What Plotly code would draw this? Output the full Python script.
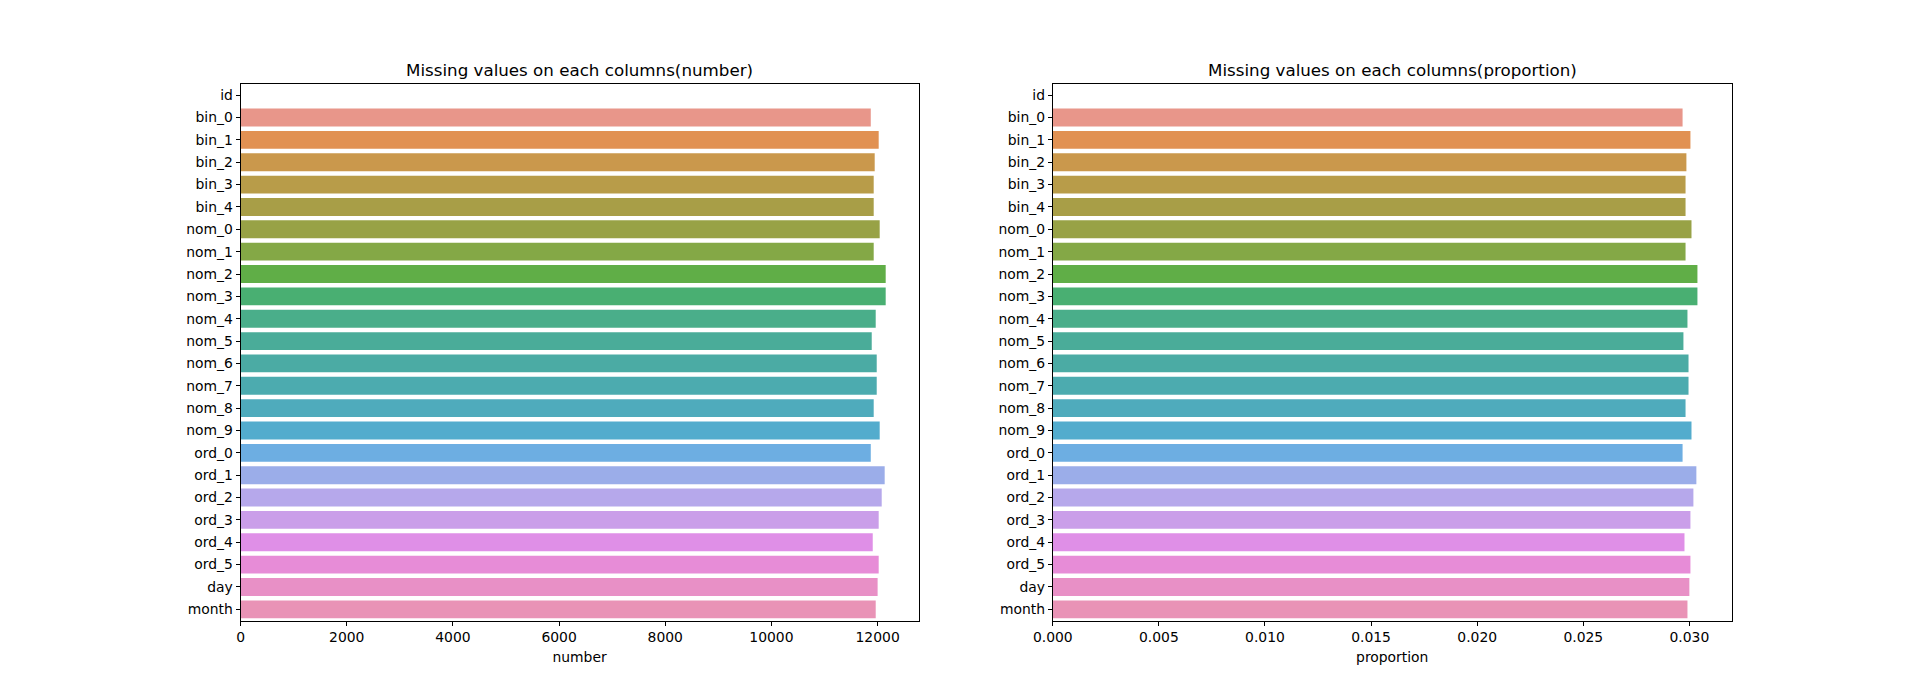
import math
import colorsys
import plotly.graph_objects as go

# columns of the dataset (top to bottom)
columns = ['id', 'bin_0', 'bin_1', 'bin_2', 'bin_3', 'bin_4', 'nom_0', 'nom_1',
           'nom_2', 'nom_3', 'nom_4', 'nom_5', 'nom_6', 'nom_7', 'nom_8', 'nom_9',
           'ord_0', 'ord_1', 'ord_2', 'ord_3', 'ord_4', 'ord_5', 'day', 'month']

# missing values count per column
missing_number = [0, 11871, 12020, 11945, 11926, 11926, 12039, 11926,
                  12152, 12152, 11964, 11889, 11983, 11983, 11926, 12039,
                  11871, 12133, 12077, 12020, 11908, 12020, 12000, 11964]

# missing values proportion per column
missing_proportion = [0.0, 0.02968, 0.03005, 0.02986, 0.02982, 0.02982, 0.03010, 0.02982,
                      0.03038, 0.03038, 0.02991, 0.02972, 0.02996, 0.02996, 0.02982, 0.03010,
                      0.02968, 0.03033, 0.03019, 0.03005, 0.02977, 0.03005, 0.03000, 0.02991]

number_ticks = [0, 2000, 4000, 6000, 8000, 10000, 12000]
proportion_ticks = [0, 0.005, 0.01, 0.015, 0.02, 0.025, 0.03]


# --- husl palette (same as seaborn's default for many categories) ---
M = [[3.2406, -1.5372, -0.4986],
     [-0.9689, 1.8758, 0.0415],
     [0.0557, -0.2040, 1.0570]]
REF_U, REF_V = 0.19784, 0.46834
LAB_E, LAB_K = 0.008856, 903.3


def max_chroma(L, H):
    hrad = math.radians(H)
    sinH, cosH = math.sin(hrad), math.cos(hrad)
    sub1 = (L + 16) ** 3 / 1560896.0
    sub2 = sub1 if sub1 > LAB_E else L / LAB_K
    result = float('inf')
    for m1, m2, m3 in M:
        top = (0.99915 * m1 + 1.05122 * m2 + 1.14460 * m3) * sub2
        rbottom = 0.86330 * m3 - 0.17266 * m2
        lbottom = 0.12949 * m3 - 0.38848 * m1
        bottom = (rbottom * sinH + lbottom * cosH) * sub2
        for t in (0.0, 1.0):
            C = L * (top - 1.05122 * t) / (bottom + 0.17266 * sinH * t)
            if 0 < C < result:
                result = C
    return result


def husl_to_rgb(H, S, L):
    C = max_chroma(L, H) / 100.0 * S
    U = math.cos(math.radians(H)) * C
    V = math.sin(math.radians(H)) * C
    Y = ((L + 16) / 116.0) ** 3 if L > 8 else L / LAB_K
    var_u = U / (13 * L) + REF_U
    var_v = V / (13 * L) + REF_V
    X = -(9 * Y * var_u) / ((var_u - 4) * var_v - var_u * var_v)
    Z = (9 * Y - 15 * var_v * Y - var_v * X) / (3 * var_v)
    out = []
    for row in M:
        c = row[0] * X + row[1] * Y + row[2] * Z
        c = 12.92 * c if c <= 0.0031308 else 1.055 * c ** (1 / 2.4) - 0.055
        out.append(min(max(c, 0), 1))
    return out


def palette(n, h=0.01, s=0.9, l=0.7, sat=0.75):
    cols = []
    for i in range(n):
        hue = ((i / n) + h) % 1 * 359
        r, g, b = husl_to_rgb(hue, s * 99, l * 99)
        hh, ll, ss = colorsys.rgb_to_hls(r, g, b)
        r, g, b = colorsys.hls_to_rgb(hh, ll, ss * sat)
        cols.append('rgb(%d,%d,%d)' % (round(r * 255), round(g * 255), round(b * 255)))
    return cols


colors = palette(len(columns))

# page body has an 8px margin, so the figure is a bit smaller than the window
OFF = 8
W, H = 1923 - 2 * OFF, 697 - 2 * OFF
font_family = 'DejaVu Sans'
tick_size = 13.9
title_size = 16.7


def px_x(x):
    return (x - OFF) / W


def px_y(y):
    return 1 - (y - OFF) / H


fig = go.Figure()

fig.add_trace(go.Bar(x=missing_number, y=columns, orientation='h',
                     marker=dict(color=colors, line=dict(width=0)),
                     xaxis='x', yaxis='y'))
fig.add_trace(go.Bar(x=missing_proportion, y=columns, orientation='h',
                     marker=dict(color=colors, line=dict(width=0)),
                     xaxis='x2', yaxis='y2'))

ydom = [px_y(620.5), px_y(84)]
axis_common = dict(
    showline=True, mirror=True, linecolor='black', linewidth=1,
    showgrid=False, zeroline=False,
    ticks='outside', ticklen=4, tickcolor='black', tickwidth=1,
    tickfont=dict(family=font_family, size=tick_size, color='black'),
    automargin=False,
)

fig.update_layout(
    width=W, height=H,
    margin=dict(l=0, r=0, t=0, b=0),
    paper_bgcolor='white', plot_bgcolor='white',
    showlegend=False,
    bargap=0.2,
    xaxis=dict(domain=[px_x(240.6), px_x(918.5)], range=[0, 12770], anchor='y',
               tickvals=number_ticks, ticktext=[str(t) for t in number_ticks],
               title=dict(text='number', font=dict(family=font_family, size=tick_size, color='black'),
                          standoff=8),
               **axis_common),
    yaxis=dict(domain=ydom, range=[len(columns) - 0.5, -0.5], anchor='x',
               type='category', **axis_common),
    xaxis2=dict(domain=[px_x(1052.8), px_x(1731.7)], range=[0, 0.031995], anchor='y2',
                tickvals=proportion_ticks, ticktext=['%.3f' % t for t in proportion_ticks],
                title=dict(text='proportion', font=dict(family=font_family, size=tick_size, color='black'),
                           standoff=8),
                **axis_common),
    yaxis2=dict(domain=ydom, range=[len(columns) - 0.5, -0.5], anchor='x2',
                type='category', **axis_common),
)

fig.update_layout(annotations=[
    dict(text='Missing values on each columns(number)', xref='paper', yref='paper',
         x=px_x((240.6 + 918.5) / 2), y=px_y(70), xanchor='center', yanchor='middle',
         showarrow=False, font=dict(family=font_family, size=title_size, color='black')),
    dict(text='Missing values on each columns(proportion)', xref='paper', yref='paper',
         x=px_x((1052.8 + 1731.7) / 2), y=px_y(70), xanchor='center', yanchor='middle',
         showarrow=False, font=dict(family=font_family, size=title_size, color='black')),
])

fig.write_html("out.html")
